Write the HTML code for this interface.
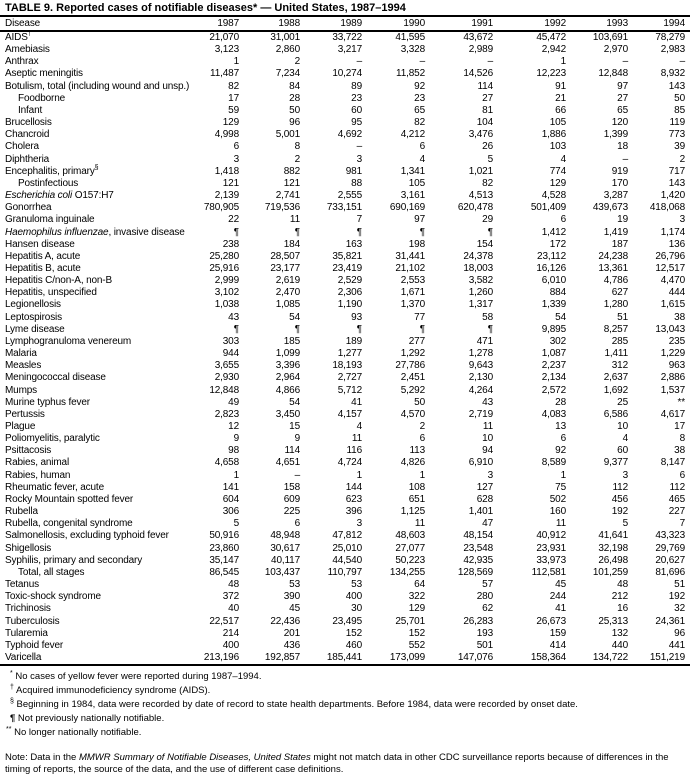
<!DOCTYPE html>
<html><head><meta charset="utf-8">
<style>
body{margin:0;width:690px;height:778px;background:#fff;font-family:"Liberation Sans",Arial,sans-serif;color:#000;position:relative;overflow:hidden}
.title{position:absolute;left:5px;top:1px;font-size:11px;font-weight:bold;line-height:14px;white-space:nowrap}
.tbl{position:absolute;left:0;top:15px;width:690px;font-size:10px;letter-spacing:-0.15px}
.hd{border-top:2px solid #000;border-bottom:2px solid #000}
.r{position:relative;height:12.16px;line-height:12.16px;white-space:nowrap}
.hd.r{height:13px;line-height:13px}
.r span{position:absolute;top:0;text-align:right}
.r span:nth-child(1){left:5px;text-align:left}
.r span.i{left:18px}
.r span:nth-child(2){right:451px}
.r span:nth-child(3){right:390px}
.r span:nth-child(4){right:328px}
.r span:nth-child(5){right:265px}
.r span:nth-child(6){right:197px}
.r span:nth-child(7){right:124px}
.r span:nth-child(8){right:62px}
.r span:nth-child(9){right:5px}
.end{border-top:2px solid #000;width:690px}
.fn{position:absolute;font-size:9.5px;line-height:12px;white-space:nowrap}
sup{font-size:7px;line-height:0}
</style></head><body>
<div class="title">TABLE 9. Reported cases of notifiable diseases* — United States, 1987–1994</div>
<div class="tbl">
<div class="hd r"><span>Disease</span><span>1987</span><span>1988</span><span>1989</span><span>1990</span><span>1991</span><span>1992</span><span>1993</span><span>1994</span></div>
<div class="r"><span>AIDS<sup>†</sup></span><span>21,070</span><span>31,001</span><span>33,722</span><span>41,595</span><span>43,672</span><span>45,472</span><span>103,691</span><span>78,279</span></div>
<div class="r"><span>Amebiasis</span><span>3,123</span><span>2,860</span><span>3,217</span><span>3,328</span><span>2,989</span><span>2,942</span><span>2,970</span><span>2,983</span></div>
<div class="r"><span>Anthrax</span><span>1</span><span>2</span><span>–</span><span>–</span><span>–</span><span>1</span><span>–</span><span>–</span></div>
<div class="r"><span>Aseptic meningitis</span><span>11,487</span><span>7,234</span><span>10,274</span><span>11,852</span><span>14,526</span><span>12,223</span><span>12,848</span><span>8,932</span></div>
<div class="r"><span>Botulism, total (including wound and unsp.)</span><span>82</span><span>84</span><span>89</span><span>92</span><span>114</span><span>91</span><span>97</span><span>143</span></div>
<div class="r"><span class="i">Foodborne</span><span>17</span><span>28</span><span>23</span><span>23</span><span>27</span><span>21</span><span>27</span><span>50</span></div>
<div class="r"><span class="i">Infant</span><span>59</span><span>50</span><span>60</span><span>65</span><span>81</span><span>66</span><span>65</span><span>85</span></div>
<div class="r"><span>Brucellosis</span><span>129</span><span>96</span><span>95</span><span>82</span><span>104</span><span>105</span><span>120</span><span>119</span></div>
<div class="r"><span>Chancroid</span><span>4,998</span><span>5,001</span><span>4,692</span><span>4,212</span><span>3,476</span><span>1,886</span><span>1,399</span><span>773</span></div>
<div class="r"><span>Cholera</span><span>6</span><span>8</span><span>–</span><span>6</span><span>26</span><span>103</span><span>18</span><span>39</span></div>
<div class="r"><span>Diphtheria</span><span>3</span><span>2</span><span>3</span><span>4</span><span>5</span><span>4</span><span>–</span><span>2</span></div>
<div class="r"><span>Encephalitis, primary<sup>§</sup></span><span>1,418</span><span>882</span><span>981</span><span>1,341</span><span>1,021</span><span>774</span><span>919</span><span>717</span></div>
<div class="r"><span class="i">Postinfectious</span><span>121</span><span>121</span><span>88</span><span>105</span><span>82</span><span>129</span><span>170</span><span>143</span></div>
<div class="r"><span><i>Escherichia coli</i> O157:H7</span><span>2,139</span><span>2,741</span><span>2,555</span><span>3,161</span><span>4,513</span><span>4,528</span><span>3,287</span><span>1,420</span></div>
<div class="r"><span>Gonorrhea</span><span>780,905</span><span>719,536</span><span>733,151</span><span>690,169</span><span>620,478</span><span>501,409</span><span>439,673</span><span>418,068</span></div>
<div class="r"><span>Granuloma inguinale</span><span>22</span><span>11</span><span>7</span><span>97</span><span>29</span><span>6</span><span>19</span><span>3</span></div>
<div class="r"><span><i>Haemophilus influenzae</i>, invasive disease</span><span>¶</span><span>¶</span><span>¶</span><span>¶</span><span>¶</span><span>1,412</span><span>1,419</span><span>1,174</span></div>
<div class="r"><span>Hansen disease</span><span>238</span><span>184</span><span>163</span><span>198</span><span>154</span><span>172</span><span>187</span><span>136</span></div>
<div class="r"><span>Hepatitis A, acute</span><span>25,280</span><span>28,507</span><span>35,821</span><span>31,441</span><span>24,378</span><span>23,112</span><span>24,238</span><span>26,796</span></div>
<div class="r"><span>Hepatitis B, acute</span><span>25,916</span><span>23,177</span><span>23,419</span><span>21,102</span><span>18,003</span><span>16,126</span><span>13,361</span><span>12,517</span></div>
<div class="r"><span>Hepatitis C/non-A, non-B</span><span>2,999</span><span>2,619</span><span>2,529</span><span>2,553</span><span>3,582</span><span>6,010</span><span>4,786</span><span>4,470</span></div>
<div class="r"><span>Hepatitis, unspecified</span><span>3,102</span><span>2,470</span><span>2,306</span><span>1,671</span><span>1,260</span><span>884</span><span>627</span><span>444</span></div>
<div class="r"><span>Legionellosis</span><span>1,038</span><span>1,085</span><span>1,190</span><span>1,370</span><span>1,317</span><span>1,339</span><span>1,280</span><span>1,615</span></div>
<div class="r"><span>Leptospirosis</span><span>43</span><span>54</span><span>93</span><span>77</span><span>58</span><span>54</span><span>51</span><span>38</span></div>
<div class="r"><span>Lyme disease</span><span>¶</span><span>¶</span><span>¶</span><span>¶</span><span>¶</span><span>9,895</span><span>8,257</span><span>13,043</span></div>
<div class="r"><span>Lymphogranuloma venereum</span><span>303</span><span>185</span><span>189</span><span>277</span><span>471</span><span>302</span><span>285</span><span>235</span></div>
<div class="r"><span>Malaria</span><span>944</span><span>1,099</span><span>1,277</span><span>1,292</span><span>1,278</span><span>1,087</span><span>1,411</span><span>1,229</span></div>
<div class="r"><span>Measles</span><span>3,655</span><span>3,396</span><span>18,193</span><span>27,786</span><span>9,643</span><span>2,237</span><span>312</span><span>963</span></div>
<div class="r"><span>Meningococcal disease</span><span>2,930</span><span>2,964</span><span>2,727</span><span>2,451</span><span>2,130</span><span>2,134</span><span>2,637</span><span>2,886</span></div>
<div class="r"><span>Mumps</span><span>12,848</span><span>4,866</span><span>5,712</span><span>5,292</span><span>4,264</span><span>2,572</span><span>1,692</span><span>1,537</span></div>
<div class="r"><span>Murine typhus fever</span><span>49</span><span>54</span><span>41</span><span>50</span><span>43</span><span>28</span><span>25</span><span>**</span></div>
<div class="r"><span>Pertussis</span><span>2,823</span><span>3,450</span><span>4,157</span><span>4,570</span><span>2,719</span><span>4,083</span><span>6,586</span><span>4,617</span></div>
<div class="r"><span>Plague</span><span>12</span><span>15</span><span>4</span><span>2</span><span>11</span><span>13</span><span>10</span><span>17</span></div>
<div class="r"><span>Poliomyelitis, paralytic</span><span>9</span><span>9</span><span>11</span><span>6</span><span>10</span><span>6</span><span>4</span><span>8</span></div>
<div class="r"><span>Psittacosis</span><span>98</span><span>114</span><span>116</span><span>113</span><span>94</span><span>92</span><span>60</span><span>38</span></div>
<div class="r"><span>Rabies, animal</span><span>4,658</span><span>4,651</span><span>4,724</span><span>4,826</span><span>6,910</span><span>8,589</span><span>9,377</span><span>8,147</span></div>
<div class="r"><span>Rabies, human</span><span>1</span><span>–</span><span>1</span><span>1</span><span>3</span><span>1</span><span>3</span><span>6</span></div>
<div class="r"><span>Rheumatic fever, acute</span><span>141</span><span>158</span><span>144</span><span>108</span><span>127</span><span>75</span><span>112</span><span>112</span></div>
<div class="r"><span>Rocky Mountain spotted fever</span><span>604</span><span>609</span><span>623</span><span>651</span><span>628</span><span>502</span><span>456</span><span>465</span></div>
<div class="r"><span>Rubella</span><span>306</span><span>225</span><span>396</span><span>1,125</span><span>1,401</span><span>160</span><span>192</span><span>227</span></div>
<div class="r"><span>Rubella, congenital syndrome</span><span>5</span><span>6</span><span>3</span><span>11</span><span>47</span><span>11</span><span>5</span><span>7</span></div>
<div class="r"><span>Salmonellosis, excluding typhoid fever</span><span>50,916</span><span>48,948</span><span>47,812</span><span>48,603</span><span>48,154</span><span>40,912</span><span>41,641</span><span>43,323</span></div>
<div class="r"><span>Shigellosis</span><span>23,860</span><span>30,617</span><span>25,010</span><span>27,077</span><span>23,548</span><span>23,931</span><span>32,198</span><span>29,769</span></div>
<div class="r"><span>Syphilis, primary and secondary</span><span>35,147</span><span>40,117</span><span>44,540</span><span>50,223</span><span>42,935</span><span>33,973</span><span>26,498</span><span>20,627</span></div>
<div class="r"><span class="i">Total, all stages</span><span>86,545</span><span>103,437</span><span>110,797</span><span>134,255</span><span>128,569</span><span>112,581</span><span>101,259</span><span>81,696</span></div>
<div class="r"><span>Tetanus</span><span>48</span><span>53</span><span>53</span><span>64</span><span>57</span><span>45</span><span>48</span><span>51</span></div>
<div class="r"><span>Toxic-shock syndrome</span><span>372</span><span>390</span><span>400</span><span>322</span><span>280</span><span>244</span><span>212</span><span>192</span></div>
<div class="r"><span>Trichinosis</span><span>40</span><span>45</span><span>30</span><span>129</span><span>62</span><span>41</span><span>16</span><span>32</span></div>
<div class="r"><span>Tuberculosis</span><span>22,517</span><span>22,436</span><span>23,495</span><span>25,701</span><span>26,283</span><span>26,673</span><span>25,313</span><span>24,361</span></div>
<div class="r"><span>Tularemia</span><span>214</span><span>201</span><span>152</span><span>152</span><span>193</span><span>159</span><span>132</span><span>96</span></div>
<div class="r"><span>Typhoid fever</span><span>400</span><span>436</span><span>460</span><span>552</span><span>501</span><span>414</span><span>440</span><span>441</span></div>
<div class="r"><span>Varicella</span><span>213,196</span><span>192,857</span><span>185,441</span><span>173,099</span><span>147,076</span><span>158,364</span><span>134,722</span><span>151,219</span></div>
<div class="end"></div>
</div>
<div class="fn" style="left:10px;top:671px"><sup>*</sup> No cases of yellow fever were reported during 1987–1994.</div>
<div class="fn" style="left:10px;top:685px"><sup>†</sup> Acquired immunodeficiency syndrome (AIDS).</div>
<div class="fn" style="left:10px;top:699px"><sup>§</sup> Beginning in 1984, data were recorded by date of record to state health departments.  Before 1984, data were recorded by onset date.</div>
<div class="fn" style="left:10px;top:713px"><b>¶</b> Not previously nationally notifiable.</div>
<div class="fn" style="left:6px;top:727px"><sup>**</sup> No longer nationally notifiable.</div>
<div class="fn" style="left:5px;top:752px">Note: Data in the <i>MMWR Summary of Notifiable Diseases, United States</i> might not match data in other CDC surveillance reports because of differences in the</div>
<div class="fn" style="left:5px;top:764px">timing of reports, the source of the data, and the use of different case definitions.</div>
</body></html>
